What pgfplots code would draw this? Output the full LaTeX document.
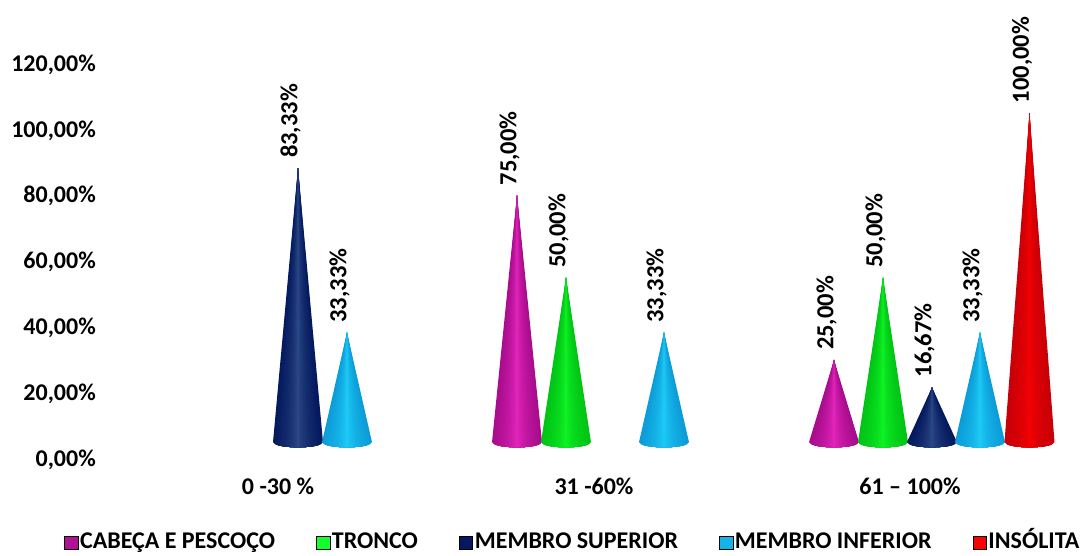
\documentclass[border=0pt]{standalone}
\usepackage{fontspec}
\setmainfont{Carlito}
\usepackage{pgfplots}
\pgfplotsset{compat=1.18}

\definecolor{conemagD}{HTML}{A80C8C}\definecolor{conemagL}{HTML}{F22CC8}
\definecolor{conegreD}{HTML}{00C414}\definecolor{conegreL}{HTML}{12FF2A}
\definecolor{conenavD}{HTML}{04195E}\definecolor{conenavL}{HTML}{36558F}
\definecolor{conecyaD}{HTML}{0C9CD8}\definecolor{conecyaL}{HTML}{22D8FF}
\definecolor{coneredD}{HTML}{C80008}\definecolor{coneredL}{HTML}{FF0000}

% One cone: centre x, value, colour stem, printed value.
% Nested outlines share the tip and narrow towards the middle, each one a little
% lighter, which gives the round look; the chart's 3D floor lifts them all.
\newcommand{\cone}[4]{%
  \foreach \k in {0,...,17}{%
    \pgfmathsetmacro{\w}{1-\k/18}%
    \pgfmathtruncatemacro{\mixp}{100*sqrt(\w)}%
    \xdef\outline{(#1,#2)}%
    \foreach \s in {-8,...,8}{%
      \pgfmathsetmacro{\t}{\w*\s/8}%
      \pgfmathsetmacro{\px}{#1-25*\t}%
      \pgfmathsetmacro{\py}{-1.55*sqrt(max(0,1-\t*\t))}%
      \xdef\outline{\outline (\px,\py)}%
    }%
    \edef\layer{\noexpand\addplot[forget plot,mark=none,draw=none,
        fill=#3D!\mixp!#3L,yshift=15.8pt]
      coordinates {\outline} --cycle;}%
    \layer
  }%
  \node[rotate=90,anchor=west,inner sep=0pt,font=\fontsize{24.5}{24.5}\selectfont\bfseries]
    at (axis cs:#1-7.5,#2+7.8) {#4};
}

\begin{document}
\begin{tikzpicture}
\useasboundingbox (0,0) rectangle (1087pt,555pt);
\begin{axis}[
  at={(100pt,97pt)}, anchor=south west,
  scale only axis, width=987pt, height=458pt,
  xmin=100, xmax=1087, ymin=0, ymax=139.2,
  clip=false,
  axis line style={draw=none},
  tick style={draw=none},
  ytick={0,20,40,60,80,100,120},
  yticklabels={{0,00\%},{20,00\%},{40,00\%},{60,00\%},{80,00\%},{100,00\%},{120,00\%}},
  xtick={278,594,910},
  xticklabels={{0 -30 \%},{31 -60\%},{61 -- 100\%}},
  tick label style={font=\fontsize{24}{24}\selectfont\bfseries},
  yticklabel style={anchor=east,inner sep=0pt,xshift=-4pt,yshift=-1.5pt},
  xticklabel style={anchor=center,inner sep=0pt,yshift=-28pt},
  legend columns=5,
  legend style={
    at={(0.479,-0.186)}, anchor=center, draw=none, fill=none,
    font=\fontsize{24}{24}\selectfont\bfseries,
    inner ysep=0pt,
    nodes={text height=16pt,text depth=4.5pt,inner ysep=0pt},
    /tikz/every even column/.style={column sep=39pt},
    /tikz/every odd column/.style={column sep=0pt},
  },
  legend cell align=left,
  legend image code/.code={\fill[#1] (-3.5pt,-6.5pt) rectangle (10pt,7pt);},
]
\addlegendimage{fill=conemagD!85!conemagL}\addlegendentry{CABEÇA E PESCOÇO}
\addlegendimage{fill=conegreL}\addlegendentry{TRONCO}
\addlegendimage{fill=conenavD}\addlegendentry{MEMBRO SUPERIOR}
\addlegendimage{fill=conecyaD!60!conecyaL}\addlegendentry{MEMBRO INFERIOR}
\addlegendimage{fill=coneredL}\addlegendentry{INSÓLITA}

% 0-30 %
\cone{298}{83.33}{conenav}{83,33\%}
\cone{347}{33.33}{conecya}{33,33\%}
% 31-60 %
\cone{517}{75}{conemag}{75,00\%}
\cone{566}{50}{conegre}{50,00\%}
\cone{664}{33.33}{conecya}{33,33\%}
% 61-100 %
\cone{834}{25}{conemag}{25,00\%}
\cone{883}{50}{conegre}{50,00\%}
\cone{932}{16.67}{conenav}{16,67\%}
\cone{980}{33.33}{conecya}{33,33\%}
\cone{1029.5}{100}{conered}{100,00\%}
\end{axis}
\end{tikzpicture}
\end{document}
